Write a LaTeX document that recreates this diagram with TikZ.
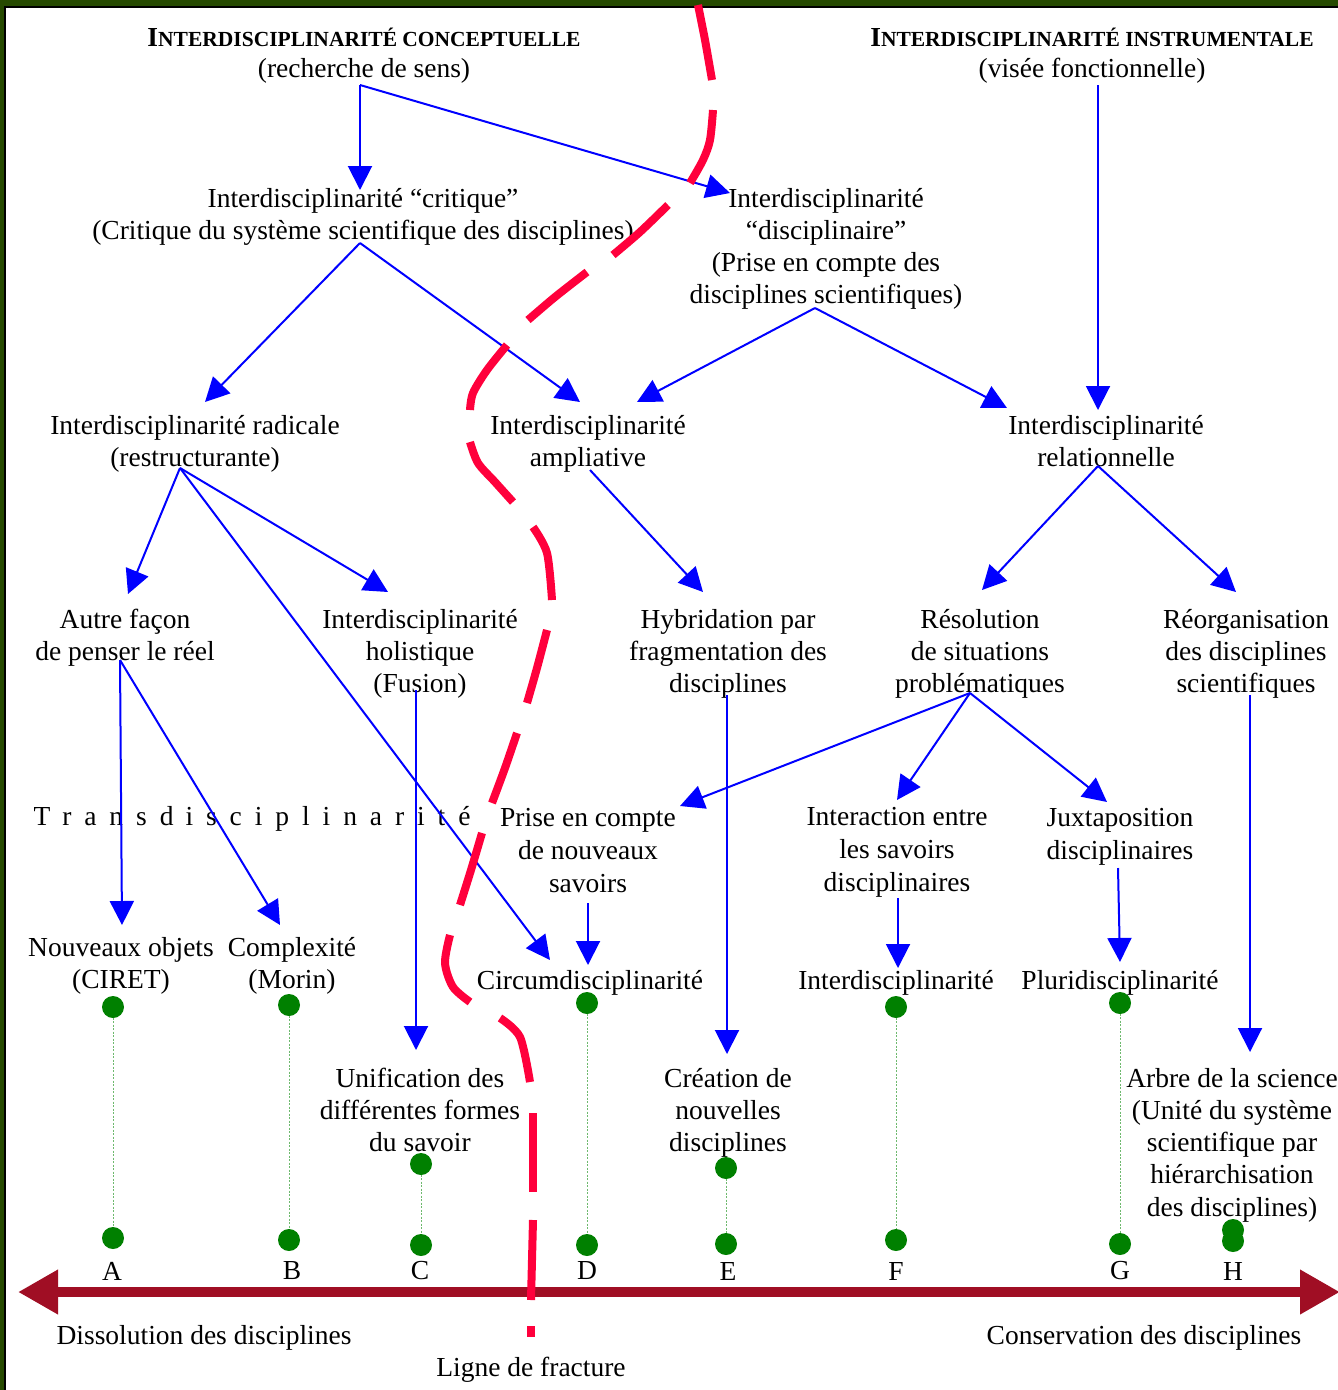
\documentclass[tikz,border=0pt]{standalone}
\usepackage{fontspec}
\setmainfont{Liberation Serif}
\usetikzlibrary{arrows.meta,calc}
\definecolor{frameg}{RGB}{38,74,0}
\definecolor{axred}{RGB}{160,14,36}
\definecolor{fracred}{RGB}{255,0,60}
\definecolor{dotg}{RGB}{0,128,0}
\definecolor{dotl}{RGB}{110,185,110}
\newcommand{\fakesc}[2]{{\bfseries\fontsize{27.5}{32}\selectfont #1\fontsize{21.5}{32}\selectfont #2}}
\begin{document}
\begin{tikzpicture}[x=1pt,y=-1pt,
  lab/.style={align=center,inner sep=0pt,font=\fontsize{27.5}{32}\selectfont},
  arr/.style={blue,line width=2pt,-{Triangle[length=24pt,width=24pt]}},
  frac/.style={fracred,line width=8pt},
  gdot/.style={circle,fill=dotg,minimum width=21pt,minimum height=22pt,inner sep=0pt},
  gline/.style={dotl,line width=1pt,dash pattern=on 2pt off 1.5pt},
  axis/.style={axred,line width=10pt,{Triangle[length=40pt,width=42pt]}-{Triangle[length=40pt,width=42pt]}}]
\useasboundingbox (0,0) rectangle (1338,1390);
\fill[white] (0,0) rectangle (1338,1390);
% frame
\fill[frameg] (0,0) rectangle (1338,6);
\fill[frameg] (0,0) rectangle (4,1390);
\draw[black,line width=1.5pt] (4.75,1390) -- (4.75,6.75) -- (1338,6.75);

% titles
\node[lab] (t1) at (364,37) {\fakesc{I}{NTERDISCIPLINARITÉ CONCEPTUELLE}};
\node[lab] (s1) at (364,71) {(recherche de sens)};
\node[lab] (t2) at (1092,37) {\fakesc{I}{NTERDISCIPLINARITÉ INSTRUMENTALE}};
\node[lab] (s2) at (1092,71) {(visée fonctionnelle)};

% nodes
\node[lab] (crit) at (363,217) {Interdisciplinarité “critique”\\(Critique du système scientifique des disciplines)};
\node[lab] (disc) at (826,249) {Interdisciplinarité\\“disciplinaire”\\(Prise en compte des\\disciplines scientifiques)};
\node[lab] (rad) at (195,444) {Interdisciplinarité radicale\\(restructurante)};
\node[lab] (ampl) at (588,444) {Interdisciplinarité\\ampliative};
\node[lab] (rel) at (1106,441) {Interdisciplinarité\\relationnelle};
\node[lab] (autre) at (125,638) {Autre façon\\de penser le réel};
\node[lab] (holi) at (420,654) {Interdisciplinarité\\holistique\\(Fusion)};
\node[lab] (hyb) at (728,654) {Hybridation par\\fragmentation des\\disciplines};
\node[lab] (reso) at (980,654) {Résolution\\de situations\\problématiques};
\node[lab] (reorg) at (1246,654) {Réorganisation\\des disciplines\\scientifiques};
\node[lab] (trans) at (252,819) {\addfontfeature{LetterSpace=47}Transd\hspace{12pt}isciplinarité};
\node[lab,font=\fontsize{27.5}{33}\selectfont] (prise) at (588,851) {Prise en compte\\de nouveaux\\savoirs};
\node[lab,font=\fontsize{27.5}{33}\selectfont] (inter) at (897,852) {Interaction entre\\les savoirs\\disciplinaires};
\node[lab,font=\fontsize{27.5}{33}\selectfont] (juxt) at (1120,837) {Juxtaposition\\disciplinaires};
\node[lab] (nouv) at (121,966) {Nouveaux objets\\(CIRET)};
\node[lab] (compl) at (292,966) {Complexité\\(Morin)};
\node[lab] (circ) at (590,983) {Circumdisciplinarité};
\node[lab] (interd) at (896,983) {Interdisciplinarité};
\node[lab] (pluri) at (1120,983) {Pluridisciplinarité};
\node[lab] (unif) at (420,1110) {Unification des\\différentes formes\\du savoir};
\node[lab] (crea) at (728,1113) {Création de\\nouvelles\\disciplines};
\node[lab,font=\fontsize{27.5}{32.25}\selectfont] (arbre) at (1232,1145) {Arbre de la science\\(Unité du système\\scientifique par\\hiérarchisation\\des disciplines)};

% letters
\foreach \l/\x in {A/112,B/292,C/420,D/587,E/728,F/896,G/1120,H/1233}
  \node[lab] (l\l) at (\x,1271) {\l};
\node[lab] (dissol) at (204,1338) {Dissolution des disciplines};
\node[lab] (conserv) at (1144,1338) {Conservation des disciplines};
\node[lab] (ligne) at (531,1370) {Ligne de fracture};

% blue arrows
\draw[arr] ([shift={(-4,14)}]s1.center) -- ([shift={(-3,-27)}]crit.center);
\draw[arr] ([shift={(-4,14)}]s1.center) -- ([shift={(-96,-56)}]disc.center);
\draw[arr] ([shift={(6,14)}]s2.center) -- ([shift={(-8,-31)}]rel.center);
\draw[arr] ([shift={(-3,26)}]crit.center) -- ([shift={(10,-42)}]rad.center);
\draw[arr] ([shift={(-3,26)}]crit.center) -- ([shift={(-8,-42)}]ampl.center);
\draw[arr] ([shift={(-11,59)}]disc.center) -- ([shift={(49,-42)}]ampl.center);
\draw[arr] ([shift={(-11,59)}]disc.center) -- ([shift={(-99,-33)}]rel.center);
\draw[arr] ([shift={(-15,24)}]rad.center) -- ([shift={(3,-44)}]autre.center);
\draw[arr] ([shift={(-15,24)}]rad.center) -- ([shift={(-32,-62)}]holi.center);
\draw[arr] ([shift={(-15,24)}]rad.center) -- ([shift={(-40,-23)}]circ.center);
\draw[arr] ([shift={(2,26)}]ampl.center) -- ([shift={(-25,-62)}]hyb.center);
\draw[arr] ([shift={(-8,25)}]rel.center) -- ([shift={(2,-64)}]reso.center);
\draw[arr] ([shift={(-8,25)}]rel.center) -- ([shift={(-10,-62)}]reorg.center);
\draw[arr] ([shift={(-5,22)}]autre.center) -- ([shift={(1,-41)}]nouv.center);
\draw[arr] ([shift={(-5,22)}]autre.center) -- ([shift={(-12,-41)}]compl.center);
\draw[arr] ([shift={(-4,36)}]holi.center) -- ([shift={(-4,-60)}]unif.center);
\draw[arr] ([shift={(-1,41)}]hyb.center) -- ([shift={(-1,-59)}]crea.center);
\draw[arr] ([shift={(-10,39)}]reso.center) -- ([shift={(92,-45)}]prise.center);
\draw[arr] ([shift={(-10,39)}]reso.center) -- ([shift={(0,-52)}]inter.center);
\draw[arr] ([shift={(-10,39)}]reso.center) -- ([shift={(-13,-35)}]juxt.center);
\draw[arr] ([shift={(4,41)}]reorg.center) -- ([shift={(18,-93)}]arbre.center);
\draw[arr] ([shift={(0,52)}]prise.center) -- ([shift={(-2,-18)}]circ.center);
\draw[arr] ([shift={(1,46)}]inter.center) -- ([shift={(2,-15)}]interd.center);
\draw[arr] ([shift={(-2,31)}]juxt.center) -- ([shift={(0,-21)}]pluri.center);

% green dots
\foreach \n/\x/\ya/\yb in {A/113/1007/1238,B/289/1005/1240,C/421/1164/1245,D/587/1003/1245,E/726/1168/1244,F/896/1007/1240,G/1120/1003/1244}{
  \draw[gline] (\x,\ya) -- (\x,\yb);
  \node[gdot] (d\n1) at (\x,\ya) {};
  \node[gdot] (d\n2) at (\x,\yb) {};
}
\node[gdot] (dH1) at (1233,1230) {};
\node[gdot] (dH2) at (1233,1241) {};

% axis
\coordinate (axL) at (18,1292);
\coordinate (axR) at (1340,1292);
\draw[axis] (axL) -- (axR);

% fracture line
\draw[frac] plot[smooth] coordinates {(698,5) (705,40) (712,80)};
\draw[frac] plot[smooth] coordinates {(713,110) (710,140) (703,160) (690,183)};
\draw[frac] plot[smooth] coordinates {(668,205) (640,232) (613,255)};
\draw[frac] plot[smooth] coordinates {(587,272) (555,297) (528,320)};
\draw[frac] plot[smooth] coordinates {(507,345) (487,370) (473,393) (470,410)};
\draw[frac] plot[smooth] coordinates {(470,442) (478,463) (495,482) (513,502)};
\draw[frac] plot[smooth] coordinates {(533,527) (547,553) (552,600)};
\draw[frac] plot[smooth] coordinates {(547,630) (537,668) (527,703)};
\draw[frac] plot[smooth] coordinates {(517,733) (505,768) (492,803)};
\draw[frac] plot[smooth] coordinates {(482,833) (471,870) (460,905)};
\draw[frac] plot[smooth] coordinates {(450,935) (445,963) (453,987) (470,1002)};
\draw[frac] plot[smooth] coordinates {(500,1018) (520,1037) (530,1082)};
\draw[frac] (533,1113) -- (533,1192);
\draw[frac] (533,1220) -- (531,1300);
\draw[frac] (531,1326) -- (531,1337);
\end{tikzpicture}
\end{document}
